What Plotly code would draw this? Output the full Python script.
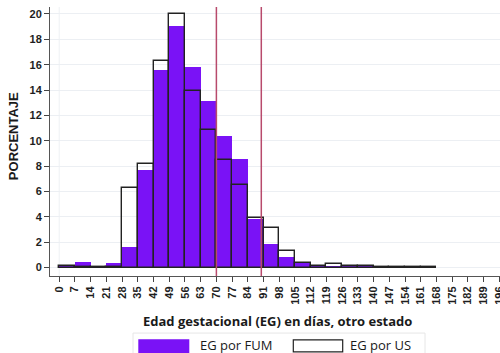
import plotly.graph_objects as go

# Weekly bins of gestational age (days): start of each 7-day bin
bin_start = [0, 7, 14, 21, 28, 35, 42, 49, 56, 63, 70, 77, 84, 91, 98,
             105, 112, 119, 126, 133, 140, 147, 154, 161]
# Percentage of cases per bin, gestational age by last menstrual period (FUM)
pct_fum = [0.10, 0.48, 0.05, 0.39, 1.63, 7.68, 15.62, 19.05, 15.79, 13.15,
           10.35, 8.53, 3.80, 1.89, 0.80, 0.44, 0.21, 0.10, 0.21, 0.18,
           0.13, 0.05, 0.10, 0.05]
# Percentage of cases per bin, gestational age by ultrasound (US)
pct_us = [0.14, 0.02, 0.05, 0.05, 6.29, 8.16, 16.26, 20.00, 13.92, 10.82,
          8.45, 6.55, 3.88, 3.10, 1.33, 0.37, 0.16, 0.26, 0.16, 0.13,
          0.06, 0.08, 0.05, 0.08]
bin_width = 7

x_ticks = list(range(0, 197, 7))
y_ticks = list(range(0, 21, 2))
ref_days = [70, 90]

series_names = ["EG por FUM", "EG por US"]
x_title = "Edad gestacional (EG) en días, otro estado"
y_title = "PORCENTAJE"

PURPLE = "#7a12f6"
W, H = 500, 353
L, R, T, B = 50, 0, 7, 77.3
plot_w = W - L - R
plot_h = H - T - B


def px_x(px):
    return (px - L) / plot_w


def px_y(py):
    return (H - B - py) / plot_h


fig = go.Figure()
fig.add_trace(go.Bar(
    x=bin_start, y=pct_fum, width=bin_width, offset=0,
    marker=dict(color=PURPLE, line=dict(width=0)),
    name=series_names[0], showlegend=False,
))
fig.add_trace(go.Bar(
    x=bin_start, y=pct_us, width=bin_width, offset=0,
    marker=dict(color="rgba(0,0,0,0)", line=dict(color="#222222", width=1.4)),
    name=series_names[1], showlegend=False,
))

tick_font = dict(family="Liberation Sans, Arial, sans-serif", size=11,
                 color="#1e1e1e", weight="bold")

fig.update_layout(
    width=W, height=H,
    margin=dict(l=L, r=R, t=T, b=B, pad=0),
    paper_bgcolor="white", plot_bgcolor="white",
    barmode="overlay", bargap=0,
    xaxis=dict(
        range=[-4.1, 196.3], tickmode="array", tickvals=x_ticks,
        ticktext=[str(v) for v in x_ticks], tickangle=-90,
        ticklabeloverflow="allow", automargin=False,
        ticks="outside", ticklen=5, tickwidth=1, tickcolor="#444444",
        showline=True, linecolor="#555555", linewidth=1,
        showgrid=False, zeroline=False, tickfont=tick_font,
    ),
    yaxis=dict(
        range=[-0.66, 20.55], tickmode="array", tickvals=y_ticks,
        automargin=False,
        ticks="outside", ticklen=5, tickwidth=1, tickcolor="#444444",
        showline=True, linecolor="#555555", linewidth=1,
        showgrid=True, gridcolor="#eceff3", gridwidth=1,
        zeroline=False, tickfont=tick_font,
    ),
)

# Reference lines at 70 and 90 days
for d in ref_days:
    fig.add_shape(type="line", xref="x", yref="paper", x0=d, x1=d, y0=0, y1=1,
                  line=dict(color="#b84a6c", width=1.5), layer="above")

# Faint vertical guide at day 0
fig.add_shape(type="line", xref="x", yref="paper", x0=0, x1=0, y0=0, y1=1,
              line=dict(color="#eef1f4", width=1), layer="below")

# Axis titles
fig.add_annotation(text=y_title, xref="paper", yref="paper",
                   x=px_x(13), y=px_y(136), textangle=-90, showarrow=False,
                   xanchor="center", yanchor="middle",
                   font=dict(family="Liberation Sans, Arial, sans-serif",
                             size=13, color="#1a1a1a", weight="bold"))
fig.add_annotation(text=x_title, xref="paper", yref="paper",
                   x=px_x(277.5), y=px_y(321), showarrow=False,
                   xanchor="center", yanchor="middle",
                   font=dict(family="Open Sans, sans-serif", size=13,
                             color="#1a1a1a", weight="bold"))

# Legend box with large swatches
fig.add_shape(type="rect", xref="paper", yref="paper",
              x0=px_x(133), x1=px_x(425), y0=px_y(362), y1=px_y(332.7),
              line=dict(color="#e6e6e6", width=1), fillcolor="white")
fig.add_shape(type="rect", xref="paper", yref="paper",
              x0=px_x(138.3), x1=px_x(189.3), y0=px_y(353), y1=px_y(338.8),
              line=dict(width=0), fillcolor=PURPLE)
fig.add_shape(type="rect", xref="paper", yref="paper",
              x0=px_x(293.3), x1=px_x(342.7), y0=px_y(351.5), y1=px_y(339.5),
              line=dict(color="#222222", width=1.2), fillcolor="white")
leg_font = dict(family="Open Sans, sans-serif", size=13, color="#1a1a1a")
fig.add_annotation(text=series_names[0], xref="paper", yref="paper",
                   x=px_x(197.5), y=px_y(344.3), showarrow=False,
                   xanchor="left", yanchor="middle", font=leg_font)
fig.add_annotation(text=series_names[1], xref="paper", yref="paper",
                   x=px_x(347.5), y=px_y(344.3), showarrow=False,
                   xanchor="left", yanchor="middle", font=leg_font)

fig.write_html("out.html")
